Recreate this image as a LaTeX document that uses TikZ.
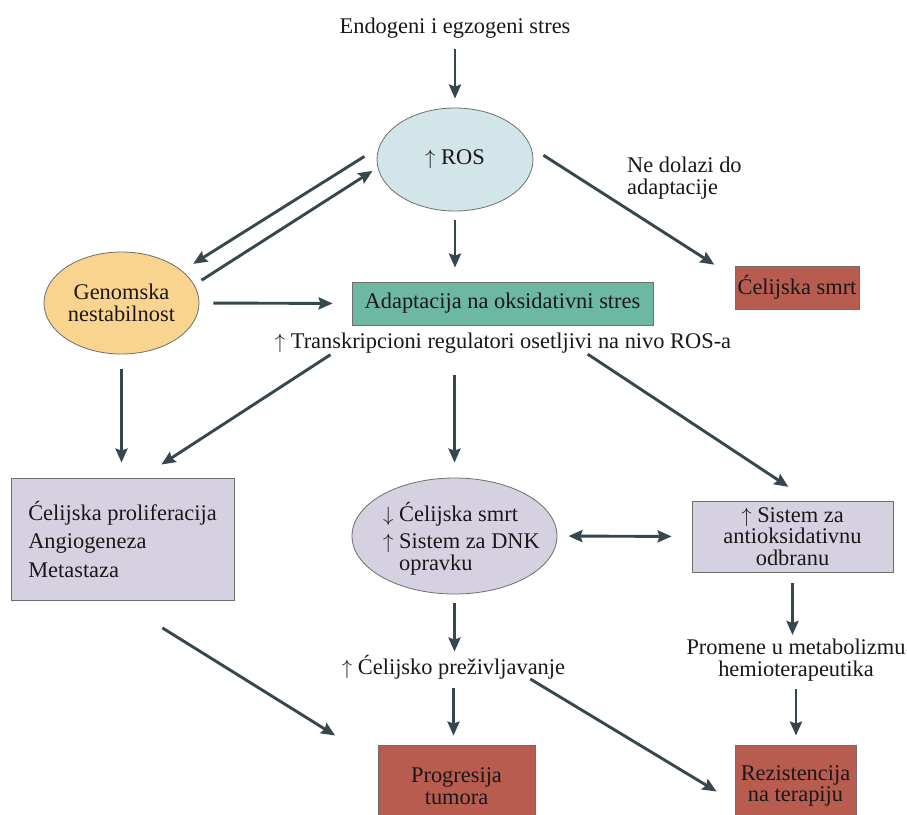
\documentclass[tikz,border=0pt]{standalone}
\usepackage{fontspec}
\setmainfont{Liberation Serif}
\usetikzlibrary{arrows.meta,shapes.geometric}
\definecolor{rosblue}{HTML}{D2E5E8}
\definecolor{genorange}{HTML}{F9D48E}
\definecolor{adaptgreen}{HTML}{6DB8A3}
\definecolor{deathred}{HTML}{B85C50}
\definecolor{lilac}{HTML}{D6D1E1}
\definecolor{arrowgray}{HTML}{37474F}
\definecolor{edgegray}{HTML}{6E6E6E}
\definecolor{textcol}{HTML}{1A1718}

\begin{document}
\begin{tikzpicture}[x=1pt,y=-1pt,
  >={Stealth[length=14pt,width=12pt,inset=2pt]},
  every node/.style={font=\fontsize{22.4}{21.5}\selectfont, text=textcol},
  lbl/.style={inner sep=0pt},
  oval/.style={ellipse, draw=edgegray, line width=0.8pt, inner sep=0pt},
  box/.style={rectangle, draw=edgegray, line width=0.8pt, inner sep=0pt},
  arr/.style={draw=arrowgray, line width=2.9pt, ->},
  darr/.style={draw=arrowgray, line width=2.9pt, <->}]
\clip (0,0) rectangle (907,814);
\fill[white] (0,0) rectangle (907,814);

\node[lbl, anchor=base] (stres) at (455,33) {Endogeni i egzogeni stres};
\node[oval, fill=rosblue, minimum width=156pt, minimum height=103pt] (ros) at (455,159.5) {$\uparrow$ ROS};
\node[oval, fill=genorange, minimum width=155pt, minimum height=102pt, align=center] (gen) at (121.5,303) {Genomska\\nestabilnost};
\node[box, fill=adaptgreen, minimum width=301pt, minimum height=43pt] (adapt) at (502.5,303.5) {Adaptacija na oksidativni stres};
\node[lbl, anchor=base] (trans) at (503,348) {$\uparrow$ Transkripcioni regulatori osetljivi na nivo ROS-a};
\node[lbl, anchor=north west, align=left] (nedol) at (627,157) {Ne dolazi do\\adaptacije};
\node[box, fill=deathred, minimum width=124pt, minimum height=43pt] (smrt) at (797,287.5) {Ćelijska smrt};
\node[box, fill=lilac, minimum width=223pt, minimum height=122pt, align=left] (prolif) at (122.5,539) {Ćelijska proliferacija\\[7pt]Angiogeneza\\[7pt]Metastaza};
\node[oval, fill=lilac, minimum width=205pt, minimum height=116pt] (mid) at (454.5,536) {};
\node[lbl, align=left] (midtxt) at (461.5,538.5) {$\downarrow$ Ćelijska smrt\\[6pt]$\uparrow$ Sistem za DNK\\\phantom{$\uparrow$ }opravku};
\node[box, fill=lilac, minimum width=201pt, minimum height=71pt, align=center] (sistem) at (792.5,536.5) {$\uparrow$ Sistem za\\antioksidativnu\\odbranu};
\node[lbl, anchor=base] (surv) at (453.5,674) {$\uparrow$ Ćelijsko preživljavanje};
\node[lbl, anchor=north, align=center] (prom) at (796,639) {Promene u metabolizmu\\hemioterapeutika};
\node[box, fill=deathred, minimum width=157pt, minimum height=82pt, align=center] (prog) at (456.5,786) {Progresija\\tumora};
\node[box, fill=deathred, minimum width=121pt, minimum height=82pt, align=center] (rez) at (795.5,786) {Rezistencija\\na terapiju};

\draw[arr, shorten <=11pt, shorten >=9pt] (stres.south) -- (ros.north);
\draw[arr, shorten <=9pt, shorten >=14pt] (ros.south) -- (ros.south |- adapt.north);
\draw[arr, shorten <=14.5pt, shorten >=24pt] (ros.9) -- (smrt.171);
\draw[arr, shorten <=17pt, shorten >=13pt] (ros.171) -- (gen.28);
\draw[arr, shorten <=8.5pt, shorten >=6pt] (gen.14) -- (ros.186);
\draw[arr, shorten <=14pt, shorten >=19pt] (gen.east) -- (adapt.west);
\draw[arr, shorten <=15pt, shorten >=15pt] (gen.south) -- (gen.south |- prolif.north);
\draw[arr, shorten <=3pt, shorten >=24pt] ([xshift=-170pt]trans.south) -- (prolif.73);
\draw[arr, shorten <=22pt, shorten >=15pt] (trans.south -| mid.north) -- (mid.north);
\draw[arr, shorten <=2pt, shorten >=25pt] ([xshift=83pt]trans.south) -- (sistem.65);
\draw[darr, shorten <=11pt, shorten >=20pt] (mid.east) -- (sistem.west);
\draw[arr, shorten <=9pt, shorten >=3pt] (mid.south) -- (mid.south |- surv.north);
\draw[arr, shorten <=9pt, shorten >=9pt] (surv.south) -- (surv.south |- prog.north);
\draw[arr, shorten >=21pt] ([xshift=-35pt]surv.south east) -- (rez.195);
\draw[arr, shorten <=52pt, shorten >=50pt] (prolif.266) -- (prog.163);
\draw[arr, shorten <=11pt, shorten >=4pt] (sistem.south) -- (sistem.south |- prom.north);
\draw[arr, shorten <=8pt, shorten >=9pt] (prom.south) -- (prom.south |- rez.north);
\end{tikzpicture}
\end{document}
